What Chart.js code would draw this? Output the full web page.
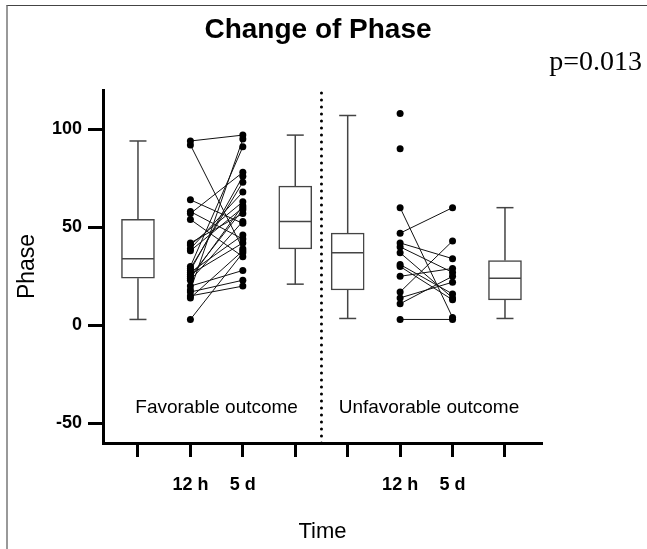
<!DOCTYPE html>
<html>
<head>
<meta charset="utf-8">
<script src="https://cdn.jsdelivr.net/npm/chart.js@4.4.1/dist/chart.umd.min.js"></script>
<style>
  body { margin: 0; background: #fff; overflow: hidden; }
  #wrap { position: relative; width: 647px; height: 549px; }
  #frame { position: absolute; left: 6px; top: 5px; right: 0; bottom: 0;
           border-top: 1.5px solid #444; border-left: 2px solid #999; pointer-events: none; }
</style>
</head>
<body>
<div id="wrap">
  <canvas id="mychart"></canvas>
  <div id="frame"></div>
</div>
<script>
// ---------- data ----------
const xTickLabels = ['', '12 h', '5 d', '', '', '12 h', '5 d', ''];
const yTickValues = [-50, 0, 50, 100];

// box plots (positions 1, 4, 5, 8 on the time axis)
const boxPos = [1, 4, 5, 8];
const boxMin = [3, 21, 3.5, 3.5];
const boxQ1  = [24, 39, 18, 13];
const boxMed = [34, 53, 37, 24];
const boxQ3  = [54, 71, 47, 33];
const boxMax = [94, 97, 107, 60];

// paired values, favorable outcome (12 h -> 5 d)
const fav12h = [94, 92, 64, 58, 57, 54, 42, 41, 39, 38, 30, 29, 28, 27, 26, 25, 24, 23, 20, 18, 17, 15, 14, 3];
const fav5d  = [97, 39, 52, 44, 78, 35, 57, 63, 68, 60, 91, 73, 76, 46, 42, 59, 61, 53, 28, 95, 23, 20, 38, 37];

// paired values, unfavorable outcome (12 h -> 5 d)
const unf12h = [108, 90, 60, 47, 42, 40, 37, 31, 30, 25, 17, 14, 11, 3];
const unf5d  = [null, null, 4, 60, 34, 27, 14, 16, 13, 29, 43, 22, 25, 3];

const groupLabels = ['Favorable outcome', 'Unfavorable outcome'];
const groupLabelX = [2.5, 6.55];
const groupLabelY = -42;
const dividerX = 4.5;

(function() {

  const boxColor = '#444';

  // whiskers as broken line segments
  let whiskers = [];
  let caps = [];
  let medians = [];
  let boxes = [];
  boxPos.forEach((x, i) => {
    whiskers.push({x: x, y: boxMin[i]}, {x: x, y: boxQ1[i]}, {x: x, y: null});
    whiskers.push({x: x, y: boxQ3[i]}, {x: x, y: boxMax[i]}, {x: x, y: null});
    caps.push({x: x, y: boxMin[i]}, {x: x, y: boxMax[i]});
    medians.push({x: x, y: boxMed[i]});
    boxes.push({x: x, y: [boxQ1[i], boxQ3[i]]});
  });

  // paired lines, split by nulls
  let pairs = [];
  fav12h.forEach((v, i) => {
    pairs.push({x: 2, y: v}, {x: 3, y: fav5d[i]}, {x: 2.5, y: null});
  });
  unf12h.forEach((v, i) => {
    pairs.push({x: 6, y: v}, {x: 7, y: unf5d[i]}, {x: 6.5, y: null});
  });

  const textPlugin = {
    id: 'texts',
    afterDraw(chart) {
      const ctx = chart.ctx;
      const xs = chart.scales.x, ys = chart.scales.y;
      ctx.save();
      ctx.fillStyle = '#000';
      ctx.textBaseline = 'middle';

      ctx.textAlign = 'center';
      ctx.font = 'bold 28px "Liberation Sans", Arial, sans-serif';
      ctx.fillText('Change of Phase', 318, 30);

      ctx.textAlign = 'right';
      ctx.font = '28px "Liberation Serif", "Times New Roman", serif';
      ctx.fillText('p=0.013', 642, 63);

      ctx.textAlign = 'center';
      ctx.font = '19px "Liberation Sans", Arial, sans-serif';
      groupLabels.forEach((t, i) => {
        ctx.fillText(t, xs.getPixelForValue(groupLabelX[i]), ys.getPixelForValue(groupLabelY));
      });
      ctx.restore();
    }
  };

  var context = document.getElementById('mychart').getContext('2d');
  var chart = new Chart(context, {
    type: 'scatter',
    data: {
      datasets: [
        {
          type: 'bar',
          label: 'boxes',
          data: boxes,
          backgroundColor: '#fff',
          borderColor: boxColor,
          borderWidth: 1.5,
          borderSkipped: false,
          barThickness: 33,
          order: 3
        },
        {
          label: 'whiskers',
          data: whiskers,
          showLine: true,
          spanGaps: false,
          borderColor: boxColor,
          borderWidth: 1.5,
          pointRadius: 0,
          order: 2
        },
        {
          label: 'caps',
          data: caps,
          pointStyle: 'line',
          pointRadius: 8.5,
          pointBorderColor: boxColor,
          pointBorderWidth: 1.5,
          order: 2
        },
        {
          label: 'medians',
          data: medians,
          pointStyle: 'line',
          pointRadius: 16,
          pointBorderColor: boxColor,
          pointBorderWidth: 1.5,
          order: 2
        },
        {
          label: 'pairs',
          data: pairs,
          showLine: true,
          spanGaps: false,
          borderColor: '#111',
          borderWidth: 1,
          pointRadius: 3.5,
          pointBackgroundColor: '#000',
          pointBorderColor: '#000',
          pointBorderWidth: 0,
          order: 1
        },
        {
          label: 'divider',
          data: [{x: dividerX, y: -60}, {x: dividerX, y: 120}],
          showLine: true,
          borderColor: '#000',
          borderWidth: 3,
          borderDash: [0, 7],
          borderCapStyle: 'round',
          pointRadius: 0,
          order: 0
        }
      ]
    },
    options: {
      responsive: true,
      maintainAspectRatio: false,
      animation: false,
      layout: { padding: { left: 10, top: 90, right: 105, bottom: 4 } },
      plugins: {
        legend: { display: false },
        tooltip: { enabled: false },
        title: { display: false }
      },
      scales: {
        x: {
          type: 'linear',
          min: 0.333,
          max: 8.706,
          offset: false,
          afterBuildTicks: (axis) => { axis.ticks = [1, 2, 3, 4, 5, 6, 7, 8].map(v => ({value: v})); },
          afterFit: (axis) => { axis.height = 102; },
          ticks: {
            autoSkip: false,
            maxRotation: 0,
            padding: 17,
            color: '#000',
            font: { family: '"Liberation Sans", Arial, sans-serif', size: 18, weight: 'bold' },
            callback: (v) => xTickLabels[v - 1]
          },
          grid: { offset: false, drawOnChartArea: false, drawTicks: true, tickLength: 14, tickWidth: 3, tickColor: '#000' },
          border: { display: true, width: 3, color: '#000' },
          title: {
            display: true,
            text: 'Time',
            color: '#000',
            padding: 0,
            font: { family: '"Liberation Sans", Arial, sans-serif', size: 22 }
          }
        },
        y: {
          min: -60,
          max: 120,
          afterBuildTicks: (axis) => { axis.ticks = yTickValues.map(v => ({value: v})); },
          afterFit: (axis) => { axis.width = 93; },
          ticks: {
            padding: 6,
            color: '#000',
            font: { family: '"Liberation Sans", Arial, sans-serif', size: 18, weight: 'bold' }
          },
          grid: { drawOnChartArea: false, drawTicks: true, tickLength: 15, tickWidth: 3, tickColor: '#000' },
          border: { display: true, width: 3, color: '#000' },
          title: {
            display: true,
            text: 'Phase',
            color: '#000',
            padding: 4,
            font: { family: '"Liberation Sans", Arial, sans-serif', size: 23 }
          }
        }
      }
    },
    plugins: [textPlugin]
  });

})();
</script>
</body>
</html>
